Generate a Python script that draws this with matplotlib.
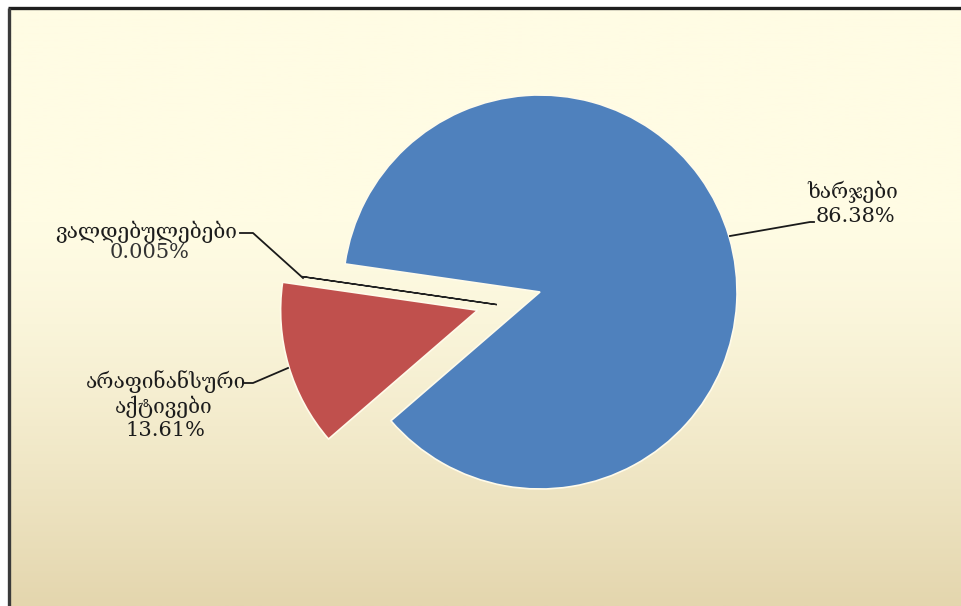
import numpy as np
import matplotlib
matplotlib.use("Agg")
import matplotlib.pyplot as plt
from matplotlib.colors import LinearSegmentedColormap

# ---- data ----
categories = ["ხარჯები", "არაფინანსური\nაქტივები", "ვალდებულებები"]
values = [86.38, 13.61, 0.005]
pct_labels = ["86.38%", "13.61%", "0.005%"]
colors = ["#4F81BD", "#C0504D", "#C0504D"]

W, H = 961, 606
fig = plt.figure(figsize=(W / 100, H / 100), dpi=100, facecolor="white")

# background panel with gradient
bg = fig.add_axes([10 / W, 0, 1 - 10 / W, (H - 9) / H])
bg.set_axis_off()
grad = np.linspace(0, 1, 256)
grad = np.clip((grad - 0.35) / 0.65, 0, 1) ** 1.3
cmap = LinearSegmentedColormap.from_list("bgc", ["#FFFCE4", "#E4D6AE"])
bg.imshow(grad[:, None], aspect="auto", cmap=cmap, extent=[0, 1, 0, 1], origin="upper")
bg.set_xlim(0, 1)
bg.set_ylim(0, 1)

# frame lines (top and left)
fig.add_artist(plt.Line2D([8 / W, 1], [1 - 8 / H, 1 - 8 / H], transform=fig.transFigure,
                          color="#1e1e1e", lw=2.4, solid_capstyle="butt"))
fig.add_artist(plt.Line2D([8.5 / W, 8.5 / W], [0, 1 - 8 / H], transform=fig.transFigure,
                          color="#3a3a3a", lw=2.4, solid_capstyle="butt"))

ax = fig.add_axes([0, 0, 1, 1])
ax.set_xlim(0, W)
ax.set_ylim(0, H)
ax.set_aspect("equal")
ax.set_axis_off()
ax.patch.set_alpha(0)

cx, cy, R = 540, H - 292, 197
explode_frac = [0, 0.33, 0.0]
wedges, _ = ax.pie(values, colors=colors, startangle=171.8, counterclock=False,
                   explode=[e * R for e in explode_frac], center=(cx, cy), radius=R,
                   wedgeprops=dict(edgecolor="#FFFBEA", linewidth=1.2))
ax.set_xlim(0, W)
ax.set_ylim(0, H)

# tiny slice: drawn as outlined sliver, shifted along the red slice's direction
red = wedges[1]
mid = np.deg2rad((red.theta1 + red.theta2) / 2)
tiny = wedges[2]
tiny.set_center((cx + 0.228 * R * np.cos(mid), cy + 0.228 * R * np.sin(mid)))
tiny.set_edgecolor("#222222")
tiny.set_linewidth(1.0)
tiny.set_zorder(3)

def yi(y):
    return H - y

lc = "#1a1a1a"
# leader lines
ax.plot([730, 810, 814], [yi(236), yi(222), yi(222)], color=lc, lw=1.3)
ax.plot([288, 253, 243], [yi(368), yi(383), yi(383)], color=lc, lw=1.3)
ax.plot([303, 253, 240], [yi(278), yi(233), yi(233)], color=lc, lw=1.3)

geo = ["DejaVu Serif", "DejaVu Sans"]
fs = 15
tc = "#1c1c1c"

# labels
ax.text(853, yi(192), categories[0], ha="center", va="center", fontsize=fs, family=geo, color=tc)
ax.text(855, yi(217), pct_labels[0], ha="center", va="center", fontsize=fs, family=geo, color=tc)

cat1 = categories[1].split("\n")
ax.text(166, yi(382), cat1[0], ha="center", va="center", fontsize=fs, family=geo, color=tc)
ax.text(164, yi(407), cat1[1], ha="center", va="center", fontsize=fs, family=geo, color=tc)
ax.text(165, yi(430), pct_labels[1], ha="center", va="center", fontsize=fs, family=geo, color=tc)

ax.text(146, yi(232), categories[2], ha="center", va="center", fontsize=fs, family=geo, color=tc)
ax.text(150, yi(253), pct_labels[2], ha="center", va="center", fontsize=fs, family=geo, color="#333333")

fig.savefig("out.png", dpi=100, facecolor="white")
